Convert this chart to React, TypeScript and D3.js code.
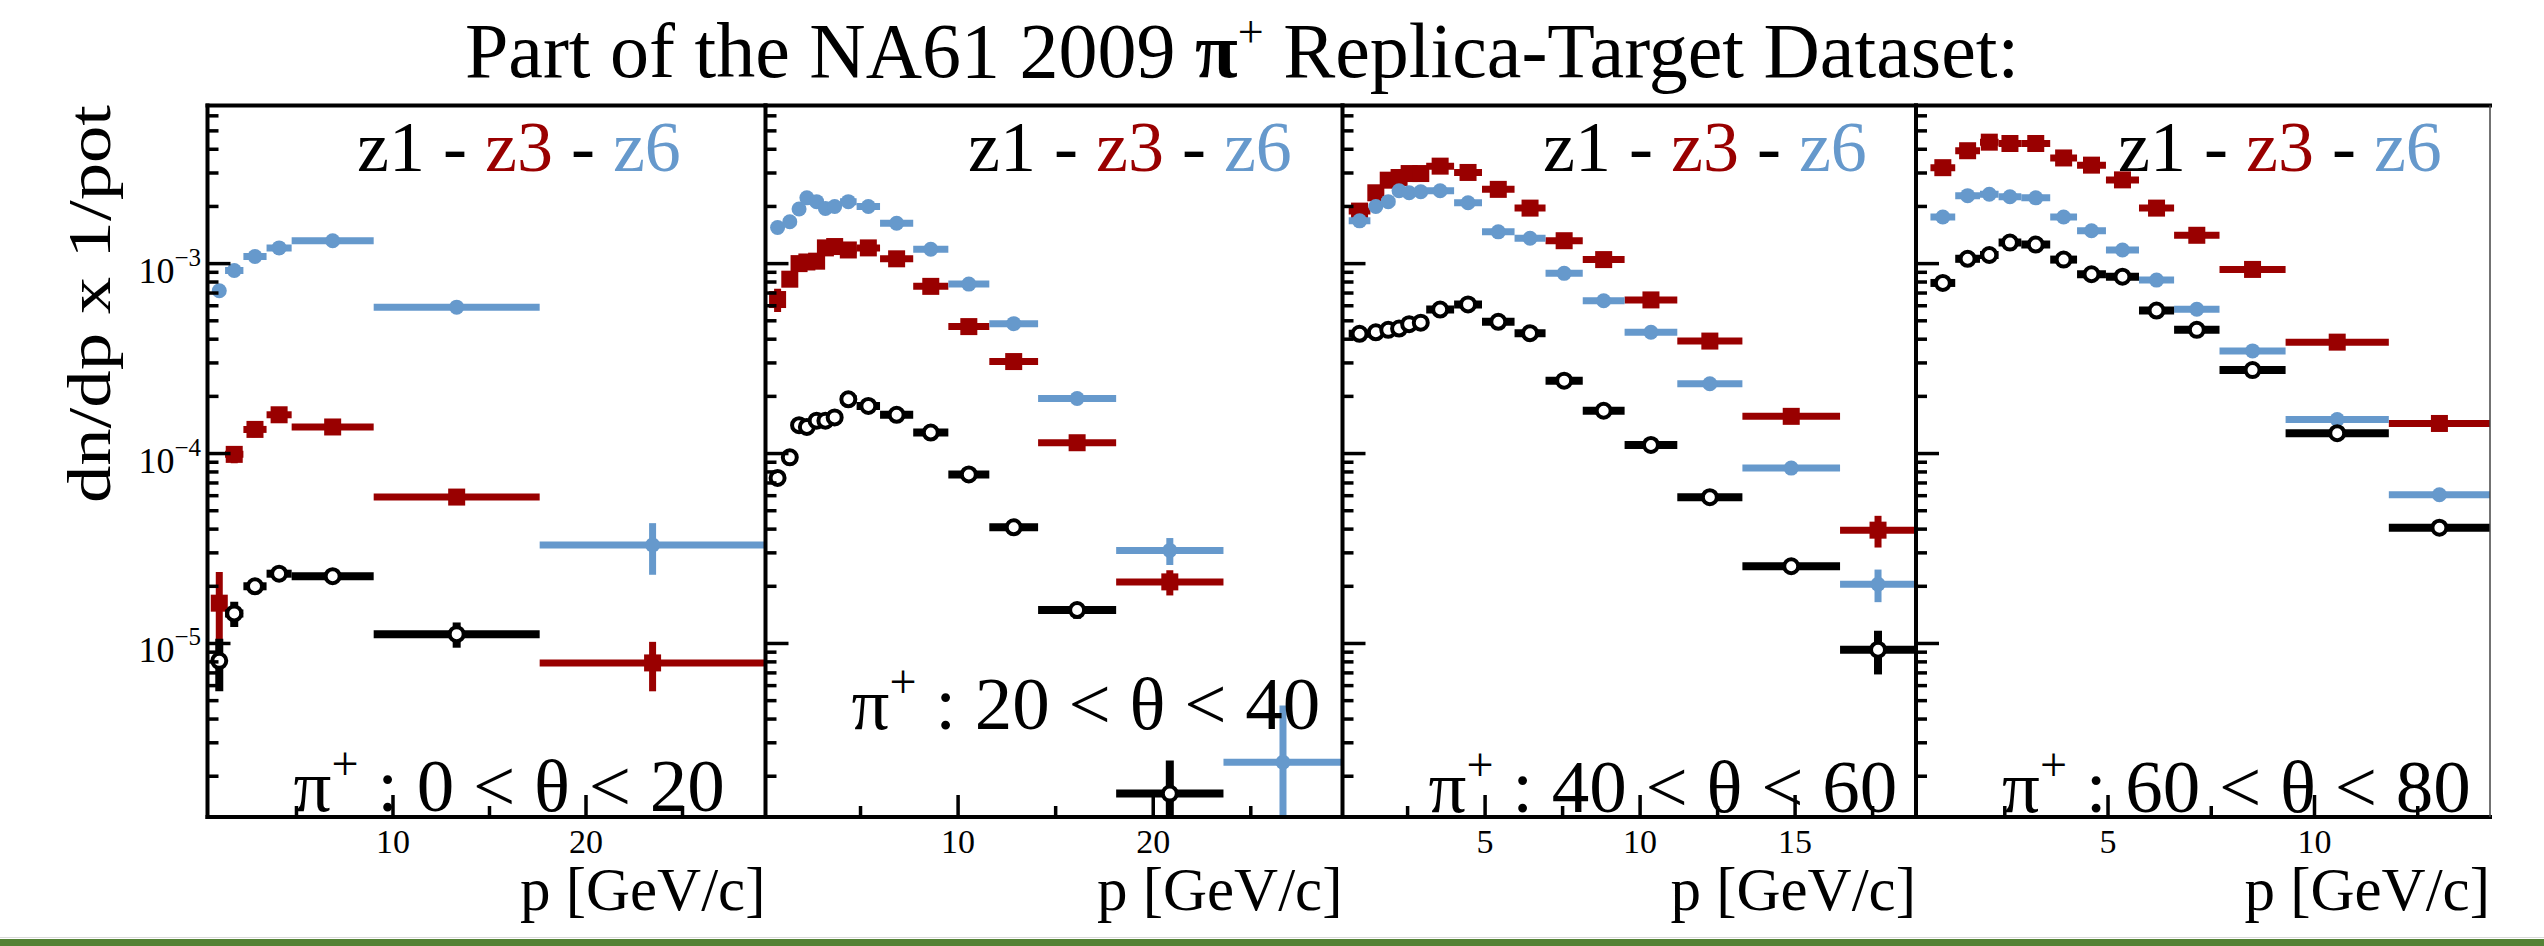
import * as d3 from "d3";

// ---- data ------------------------------------------------------------
// momentum bin edges [GeV/c] and dn/dp x 1/pot for the three z-slices, per theta slice

const thetaRanges = ["0 < θ < 20", "20 < θ < 40", "40 < θ < 60", "60 < θ < 80"];
const seriesNames = ["z1", "z3", "z6"];

// 0 < theta < 20
const p1Edges = [0.7, 1.3, 2.25, 3.45, 4.75, 9.0, 17.6, 29.3];
const p1Z1 = [8.1e-6, 1.44e-5, 2.0e-5, 2.33e-5, 2.26e-5, 1.12e-5, null];
const p1Z1Err = [2.5e-6, 2.2e-6, 1.0e-6, 1.0e-6, 8e-7, 1.7e-6, null];
const p1Z3 = [1.63e-5, 9.9e-5, 1.34e-4, 1.6e-4, 1.38e-4, 5.9e-5, 7.9e-6];
const p1Z3Err = [7.5e-6, 1.0e-5, 1.2e-5, 1.0e-5, 5e-6, 3e-6, 2.3e-6];
const p1Z6 = [7.2e-4, 9.2e-4, 1.09e-3, 1.21e-3, 1.32e-3, 5.9e-4, 3.3e-5];
const p1Z6Err = [3e-5, 3e-5, 3e-5, 3e-5, 2e-5, 1.5e-5, 1.0e-5];

// 20 < theta < 40
const p2Edges = [0.45, 1.05, 1.7, 2.0, 2.5, 3.0, 3.4, 3.95, 4.8, 6.0, 7.7, 9.5, 11.6, 14.1, 18.1, 23.6, 29.7];
const p2Z1 = [7.44e-5, 9.55e-5, 1.41e-4, 1.38e-4, 1.49e-4, 1.49e-4, 1.55e-4, 1.93e-4, 1.78e-4, 1.6e-4, 1.29e-4, 7.76e-5, 4.09e-5, 1.5e-5, 1.62e-6, null];
const p2Z1Err = [6e-6, 6e-6, 6e-6, 6e-6, 6e-6, 6e-6, 6e-6, 6e-6, 5e-6, 4e-6, 4e-6, 3e-6, 2e-6, 1.5e-6, 8e-7, null];
const p2Z3 = [6.47e-4, 8.28e-4, 1.0e-3, 1.02e-3, 1.03e-3, 1.21e-3, 1.23e-3, 1.18e-3, 1.21e-3, 1.06e-3, 7.59e-4, 4.66e-4, 3.05e-4, 1.14e-4, 2.11e-5, null];
const p2Z3Err = [9e-5, 5e-5, 5e-5, 4e-5, 4e-5, 4e-5, 4e-5, 4e-5, 3e-5, 3e-5, 2e-5, 1.5e-5, 1e-5, 5e-6, 3.2e-6, null];
const p2Z6 = [1.55e-3, 1.66e-3, 1.94e-3, 2.22e-3, 2.12e-3, 1.95e-3, 2.0e-3, 2.12e-3, 2.0e-3, 1.63e-3, 1.19e-3, 7.8e-4, 4.83e-4, 1.95e-4, 3.09e-5, 2.37e-6];
const p2Z6Err = [5e-5, 5e-5, 5e-5, 5e-5, 5e-5, 5e-5, 5e-5, 5e-5, 4e-5, 3e-5, 2.5e-5, 1.5e-5, 1e-5, 6e-6, 5e-6, 2.35e-6];

// 40 < theta < 60
const p3Edges = [0.6, 1.3, 1.65, 2.1, 2.35, 2.75, 3.1, 4.0, 4.9, 5.95, 6.95, 8.15, 9.5, 11.2, 13.3, 16.45, 18.9];
const p3Z1 = [4.27e-4, 4.35e-4, 4.48e-4, 4.55e-4, 4.8e-4, 4.89e-4, 5.73e-4, 6.1e-4, 4.94e-4, 4.3e-4, 2.42e-4, 1.68e-4, 1.11e-4, 5.89e-5, 2.55e-5, 9.27e-6];
const p3Z1Err = [1.5e-5, 1.5e-5, 1.5e-5, 1.5e-5, 1.5e-5, 1.5e-5, 1.5e-5, 1.5e-5, 1.2e-5, 1.2e-5, 8e-6, 6e-6, 4e-6, 2.5e-6, 1.5e-6, 2.4e-6];
const p3Z3 = [1.89e-3, 2.36e-3, 2.75e-3, 2.84e-3, 2.98e-3, 2.98e-3, 3.26e-3, 3.02e-3, 2.46e-3, 1.96e-3, 1.32e-3, 1.05e-3, 6.44e-4, 3.91e-4, 1.57e-4, 3.95e-5];
const p3Z3Err = [8e-5, 8e-5, 8e-5, 8e-5, 8e-5, 8e-5, 8e-5, 7e-5, 6e-5, 5e-5, 4e-5, 3e-5, 2e-5, 1.2e-5, 6e-6, 7.5e-6];
const p3Z6 = [1.68e-3, 2.0e-3, 2.12e-3, 2.42e-3, 2.36e-3, 2.39e-3, 2.42e-3, 2.09e-3, 1.47e-3, 1.36e-3, 8.89e-4, 6.37e-4, 4.35e-4, 2.33e-4, 8.38e-5, 2.05e-5];
const p3Z6Err = [6e-5, 6e-5, 6e-5, 6e-5, 6e-5, 6e-5, 6e-5, 6e-5, 5e-5, 4e-5, 3e-5, 2e-5, 1.5e-5, 8e-6, 4e-6, 4e-6];

// 60 < theta < 80
const p4Edges = [0.7, 1.3, 1.9, 2.35, 2.9, 3.6, 4.25, 4.95, 5.75, 6.6, 7.7, 9.3, 11.8, 14.25];
const p4Z1 = [7.91e-4, 1.06e-3, 1.11e-3, 1.29e-3, 1.26e-3, 1.05e-3, 8.79e-4, 8.53e-4, 5.66e-4, 4.48e-4, 2.75e-4, 1.28e-4, 4.07e-5];
const p4Z1Err = [3e-5, 3e-5, 3e-5, 3e-5, 3e-5, 3e-5, 3e-5, 3e-5, 2e-5, 1.5e-5, 1e-5, 6e-6, 3e-6];
const p4Z3 = [3.2e-3, 3.93e-3, 4.36e-3, 4.29e-3, 4.29e-3, 3.6e-3, 3.3e-3, 2.76e-3, 1.96e-3, 1.41e-3, 9.32e-4, 3.86e-4, 1.44e-4];
const p4Z3Err = [1e-4, 1e-4, 1e-4, 1e-4, 1e-4, 1e-4, 1e-4, 8e-5, 6e-5, 4e-5, 3e-5, 1.5e-5, 8e-6];
const p4Z6 = [1.76e-3, 2.28e-3, 2.32e-3, 2.25e-3, 2.22e-3, 1.76e-3, 1.49e-3, 1.18e-3, 8.19e-4, 5.75e-4, 3.47e-4, 1.51e-4, 6.07e-5];
const p4Z6Err = [7e-5, 7e-5, 7e-5, 7e-5, 7e-5, 6e-5, 5e-5, 4e-5, 3e-5, 2e-5, 1.2e-5, 7e-6, 4e-6];

// axis ranges and ticks
const yDomain = [1.22e-6, 6.8e-3];
const xDomains = [[0.39, 29.3], [0.13, 29.7], [0.4, 18.9], [0.35, 14.25]];
const xMajorTicks = [[10, 20], [10, 20], [5, 10, 15], [5, 10]];
const xMinorTicks = [[5, 15, 25], [5, 15, 25], [2.5, 7.5, 12.5, 17.5], [2.5, 7.5, 12.5]];

// ---- layout ----------------------------------------------------------
const W = 2544;
const H = 946;
const frameTop = 105.5;
const frameBottom = 817;
const panelEdgesPx = [207.5, 765.5, 1342.5, 1916, 2490];
const legendX = [357, 968, 1543, 2118];
const labelY = [811, 729, 812, 812];
const FONT = "'Liberation Serif', 'DejaVu Serif', Times, serif";
const RED = "#990000";
const BLUE = "#6699cc";

const panels = [
  { edges: p1Edges, z1: p1Z1, z1Err: p1Z1Err, z3: p1Z3, z3Err: p1Z3Err, z6: p1Z6, z6Err: p1Z6Err },
  { edges: p2Edges, z1: p2Z1, z1Err: p2Z1Err, z3: p2Z3, z3Err: p2Z3Err, z6: p2Z6, z6Err: p2Z6Err },
  { edges: p3Edges, z1: p3Z1, z1Err: p3Z1Err, z3: p3Z3, z3Err: p3Z3Err, z6: p3Z6, z6Err: p3Z6Err },
  { edges: p4Edges, z1: p4Z1, z1Err: p4Z1Err, z3: p4Z3, z3Err: p4Z3Err, z6: p4Z6, z6Err: p4Z6Err },
];

const y = d3.scaleLog().domain(yDomain).range([frameBottom, frameTop]);
const isMajor = (t: number) => Math.abs(Math.log10(t) - Math.round(Math.log10(t))) < 1e-6;

function Series({ x, edges, values, errs, kind }: any) {
  const color = kind === "z1" ? "#000" : kind === "z3" ? RED : BLUE;
  const sw = kind === "z1" ? 8 : 7;
  return (
    <g>
      {values.map((v: number | null, k: number) => {
        if (v == null) return null;
        const lo = edges[k];
        const hi = edges[k + 1];
        const cx = x((lo + hi) / 2);
        const cy = y(v);
        const e = errs[k] || 0;
        const yTop = y(v + e);
        const yBot = v - e > 1e-9 ? y(v - e) : frameBottom + 50;
        return (
          <g key={k}>
            <line x1={x(lo)} x2={x(hi)} y1={cy} y2={cy} stroke={color} strokeWidth={sw} />
            <line x1={cx} x2={cx} y1={yTop} y2={yBot} stroke={color} strokeWidth={sw} />
            {kind === "z1" && <circle cx={cx} cy={cy} r={7} fill="#fff" stroke="#000" strokeWidth={4} />}
            {kind === "z3" && <rect x={cx - 8.5} y={cy - 8.5} width={17} height={17} fill={RED} />}
            {kind === "z6" && <circle cx={cx} cy={cy} r={7.5} fill={BLUE} />}
          </g>
        );
      })}
    </g>
  );
}

function Panel({ i }: { i: number }) {
  const left = panelEdgesPx[i];
  const right = panelEdgesPx[i + 1];
  const x = d3.scaleLinear().domain(xDomains[i]).range([left, right]);
  const d = panels[i];
  const yTicks = y.ticks();
  const clipId = `clip${i}`;

  return (
    <g>
      <defs>
        <clipPath id={clipId}>
          <rect x={left} y={frameTop} width={right - left} height={frameBottom - frameTop} />
        </clipPath>
      </defs>

      <g clipPath={`url(#${clipId})`}>
        <Series x={x} edges={d.edges} values={d.z3} errs={d.z3Err} kind="z3" />
        <Series x={x} edges={d.edges} values={d.z6} errs={d.z6Err} kind="z6" />
        <Series x={x} edges={d.edges} values={d.z1} errs={d.z1Err} kind="z1" />
      </g>

      {/* y ticks, pointing inward */}
      {yTicks.map((t) => (
        <line
          key={t}
          x1={left}
          x2={left + (isMajor(t) ? 23 : 11)}
          y1={y(t)}
          y2={y(t)}
          stroke="#000"
          strokeWidth={3.5}
        />
      ))}

      {/* x ticks */}
      {xMajorTicks[i].map((t) => (
        <line key={"M" + t} x1={x(t)} x2={x(t)} y1={frameBottom} y2={frameBottom - 22} stroke="#000" strokeWidth={3.5} />
      ))}
      {xMinorTicks[i].map((t) => (
        <line key={"m" + t} x1={x(t)} x2={x(t)} y1={frameBottom} y2={frameBottom - 11} stroke="#000" strokeWidth={3.5} />
      ))}
      {xMajorTicks[i].map((t) => (
        <text key={"L" + t} x={x(t)} y={853} textAnchor="middle" fontSize={34}>
          {t}
        </text>
      ))}

      {/* frame */}
      <line x1={left} x2={left} y1={frameTop - 2} y2={frameBottom + 2} stroke="#000" strokeWidth={4} />
      <line x1={left - 2} x2={right + 2} y1={frameTop} y2={frameTop} stroke="#000" strokeWidth={4} />
      <line x1={left - 2} x2={right + 2} y1={frameBottom} y2={frameBottom} stroke="#000" strokeWidth={4} />
      {i === 3 && <line x1={right} x2={right} y1={frameTop} y2={frameBottom} stroke="#444" strokeWidth={1.5} />}

      {/* legend */}
      <text x={legendX[i]} y={171} fontSize={72} style={{ whiteSpace: "pre" }}>
        <tspan fill="#000">{seriesNames[0] + " - "}</tspan>
        <tspan fill={RED}>{seriesNames[1]}</tspan>
        <tspan fill="#000">{" - "}</tspan>
        <tspan fill={BLUE}>{seriesNames[2]}</tspan>
      </text>

      {/* theta label */}
      <text x={left + 86} y={labelY[i]} fontSize={75} style={{ whiteSpace: "pre" }}>
        <tspan>π</tspan>
        <tspan fontSize={48} dy={-31}>+</tspan>
        <tspan dy={31}>{" : " + thetaRanges[i]}</tspan>
      </text>

      <text x={right} y={910} textAnchor="end" fontSize={61}>
        p [GeV/c]
      </text>
    </g>
  );
}

export default function App() {
  const majors = y.ticks().filter(isMajor);
  return (
    <svg
      width={W}
      height={H}
      viewBox={`0 0 ${W} ${H}`}
      style={{ position: "absolute", left: 0, top: 0, background: "#fff" }}
      fontFamily={FONT}
    >
      <rect width={W} height={H} fill="#fff" />
      <text x={1242} y={77} textAnchor="middle" fontSize={78} style={{ whiteSpace: "pre" }}>
        <tspan>{"Part of the NA61 2009 "}</tspan>
        <tspan fontWeight="bold">π</tspan>
        <tspan fontSize={46} dy={-30}>+</tspan>
        <tspan dy={30}>{" Replica-Target Dataset:"}</tspan>
      </text>

      {/* y axis labels (panel 1 only) */}
      {majors.map((t) => (
        <text key={t} x={201} y={y(t) + 19} textAnchor="end" fontSize={36}>
          <tspan>10</tspan>
          <tspan fontSize={25} dy={-17}>{"−" + Math.abs(Math.round(Math.log10(t)))}</tspan>
        </text>
      ))}
      <text
        transform={`translate(110, 304) rotate(-90)`}
        textAnchor="middle"
        fontSize={62}
        textLength={398}
        lengthAdjust="spacingAndGlyphs"
      >
        dn/dp x 1/pot
      </text>

      {[0, 1, 2, 3].map((i) => (
        <Panel key={i} i={i} />
      ))}

      <line x1={0} x2={W} y1={937.5} y2={937.5} stroke="#d9d9d9" strokeWidth={1} />
      <rect x={0} y={939} width={W} height={7} fill="#548235" />
    </svg>
  );
}
